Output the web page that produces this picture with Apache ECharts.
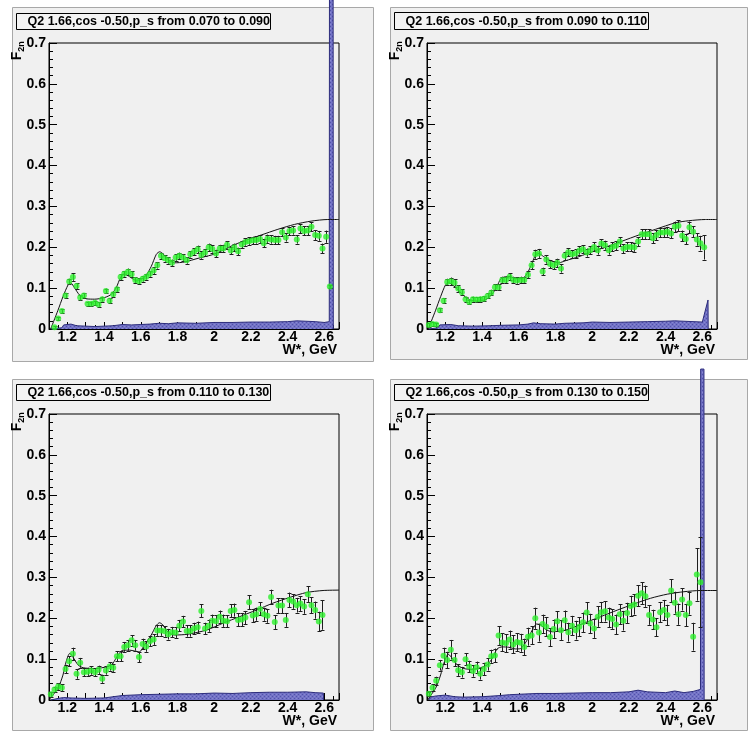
<!DOCTYPE html>
<html><head><meta charset="utf-8">
<script src="https://cdn.jsdelivr.net/npm/echarts@6/dist/echarts.min.js"></script>
<style>html,body{margin:0;padding:0;background:#fff}#c{width:750px;height:740px}</style>
</head><body><div id="c"></div>
<script>
// ---------------- DATA ----------------
const titles = [
  "Q2 1.66,cos -0.50,p_s from 0.070 to 0.090",
  "Q2 1.66,cos -0.50,p_s from 0.090 to 0.110",
  "Q2 1.66,cos -0.50,p_s from 0.110 to 0.130",
  "Q2 1.66,cos -0.50,p_s from 0.130 to 0.150"
];
const xTitle = "W*, GeV";
const yTitleMain = "F";
const yTitleSub = "2n";
const xTickLabels = ["1.2","1.4","1.6","1.8","2","2.2","2.4","2.6"];
const yTickLabels = ["0","0.1","0.2","0.3","0.4","0.5","0.6","0.7"];

const wP1 = [1.13,1.15,1.17,1.19,1.21,1.23,1.25,1.27,1.29,1.31,1.33,1.35,1.37,1.39,1.41,1.43,1.45,1.47,1.49,1.51,1.53,1.55,1.57,1.59,1.61,1.63,1.65,1.67,1.69,1.71,1.73,1.75,1.77,1.79,1.81,1.83,1.85,1.87,1.89,1.91,1.93,1.95,1.97,1.99,2.01,2.03,2.05,2.07,2.09,2.11,2.13,2.15,2.17,2.19,2.21,2.23,2.25,2.27,2.29,2.31,2.33,2.35,2.37,2.39,2.41,2.43,2.45,2.47,2.49,2.51,2.53,2.55,2.57,2.59,2.61,2.63];
const wP2 = [1.11,1.13,1.15,1.17,1.19,1.21,1.23,1.25,1.27,1.29,1.31,1.33,1.35,1.37,1.39,1.41,1.43,1.45,1.47,1.49,1.51,1.53,1.55,1.57,1.59,1.61,1.63,1.65,1.67,1.69,1.71,1.73,1.75,1.77,1.79,1.81,1.83,1.85,1.87,1.89,1.91,1.93,1.95,1.97,1.99,2.01,2.03,2.05,2.07,2.09,2.11,2.13,2.15,2.17,2.19,2.21,2.23,2.25,2.27,2.29,2.31,2.33,2.35,2.37,2.39,2.41,2.43,2.45,2.47,2.49,2.51,2.53,2.55,2.57,2.59,2.61];
const wP3 = [1.11,1.13,1.15,1.17,1.19,1.21,1.23,1.25,1.27,1.29,1.31,1.33,1.35,1.37,1.39,1.41,1.43,1.45,1.47,1.49,1.51,1.53,1.55,1.57,1.59,1.61,1.63,1.65,1.67,1.69,1.71,1.73,1.75,1.77,1.79,1.81,1.83,1.85,1.87,1.89,1.91,1.93,1.95,1.97,1.99,2.01,2.03,2.05,2.07,2.09,2.11,2.13,2.15,2.17,2.19,2.21,2.23,2.25,2.27,2.29,2.31,2.33,2.35,2.37,2.39,2.41,2.43,2.45,2.47,2.49,2.51,2.53,2.55,2.57,2.59];
const wP4 = [1.11,1.13,1.15,1.17,1.19,1.21,1.23,1.25,1.27,1.29,1.31,1.33,1.35,1.37,1.39,1.41,1.43,1.45,1.47,1.49,1.51,1.53,1.55,1.57,1.59,1.61,1.63,1.65,1.67,1.69,1.71,1.73,1.75,1.77,1.79,1.81,1.83,1.85,1.87,1.89,1.91,1.93,1.95,1.97,1.99,2.01,2.03,2.05,2.07,2.09,2.11,2.13,2.15,2.17,2.19,2.21,2.23,2.25,2.27,2.29,2.31,2.33,2.35,2.37,2.39,2.41,2.43,2.45,2.47,2.49,2.51,2.53,2.55,2.57,2.59];

const f2nP1 = [0.004,0.026,0.044,0.082,0.116,0.127,0.105,0.077,0.082,0.062,
  0.062,0.064,0.060,0.073,0.093,0.069,0.085,0.097,0.127,0.135,
  0.140,0.134,0.120,0.117,0.123,0.128,0.135,0.143,0.156,0.179,
  0.173,0.168,0.162,0.175,0.179,0.175,0.168,0.183,0.189,0.195,
  0.181,0.187,0.200,0.196,0.185,0.197,0.197,0.206,0.192,0.200,
  0.190,0.207,0.213,0.215,0.217,0.218,0.220,0.210,0.221,0.219,
  0.218,0.218,0.237,0.224,0.240,0.241,0.219,0.246,0.240,0.241,
  0.250,0.230,0.228,0.197,0.226,0.104];
const errP1 = [0.003,0.004,0.005,0.006,0.007,0.009,0.007,0.006,0.006,0.005,
  0.005,0.005,0.005,0.006,0.006,0.006,0.006,0.006,0.007,0.007,
  0.008,0.007,0.007,0.007,0.007,0.007,0.007,0.008,0.008,0.008,
  0.008,0.008,0.008,0.008,0.008,0.008,0.008,0.008,0.009,0.009,
  0.009,0.009,0.009,0.009,0.009,0.009,0.009,0.009,0.009,0.009,
  0.009,0.009,0.009,0.009,0.009,0.009,0.009,0.010,0.010,0.010,
  0.010,0.010,0.010,0.010,0.010,0.010,0.010,0.011,0.011,0.011,
  0.011,0.012,0.012,0.012,0.015,0.003];

const f2nP2 = [0.010,0.012,0.011,0.046,0.069,0.115,0.117,0.113,0.099,0.090,
  0.073,0.066,0.073,0.072,0.073,0.074,0.081,0.089,0.102,0.102,
  0.120,0.120,0.128,0.120,0.119,0.120,0.120,0.133,0.156,0.183,
  0.185,0.141,0.170,0.159,0.156,0.162,0.148,0.179,0.188,0.183,
  0.185,0.192,0.195,0.187,0.193,0.201,0.193,0.209,0.205,0.193,
  0.201,0.204,0.214,0.197,0.201,0.201,0.200,0.214,0.232,0.232,
  0.232,0.222,0.230,0.236,0.236,0.238,0.234,0.250,0.253,0.228,
  0.220,0.249,0.238,0.219,0.210,0.200];
const errP2 = [0.004,0.004,0.004,0.005,0.006,0.008,0.009,0.009,0.008,0.007,
  0.006,0.006,0.006,0.006,0.006,0.006,0.006,0.007,0.007,0.007,
  0.008,0.008,0.009,0.008,0.008,0.008,0.008,0.009,0.010,0.011,
  0.011,0.009,0.010,0.010,0.010,0.010,0.010,0.010,0.010,0.010,
  0.010,0.010,0.010,0.010,0.010,0.011,0.011,0.011,0.011,0.011,
  0.011,0.011,0.011,0.011,0.011,0.011,0.011,0.011,0.012,0.012,
  0.012,0.012,0.012,0.012,0.012,0.012,0.012,0.013,0.013,0.013,
  0.013,0.014,0.014,0.015,0.018,0.030];

const f2nP3 = [0.014,0.026,0.033,0.030,0.076,0.095,0.113,0.064,0.091,0.068,
  0.069,0.072,0.068,0.074,0.052,0.072,0.082,0.079,0.107,0.107,
  0.130,0.134,0.146,0.134,0.105,0.137,0.131,0.144,0.148,0.170,
  0.170,0.168,0.161,0.166,0.165,0.182,0.192,0.169,0.169,0.175,
  0.178,0.218,0.175,0.182,0.194,0.193,0.204,0.194,0.193,0.218,
  0.220,0.196,0.197,0.202,0.239,0.207,0.210,0.223,0.210,0.206,
  0.252,0.191,0.231,0.231,0.196,0.245,0.241,0.232,0.236,0.229,
  0.259,0.232,0.220,0.192,0.208];
const errP3 = [0.006,0.007,0.008,0.008,0.010,0.012,0.015,0.012,0.012,0.010,
  0.010,0.010,0.010,0.010,0.010,0.010,0.010,0.010,0.012,0.012,
  0.012,0.013,0.013,0.013,0.012,0.013,0.013,0.013,0.013,0.013,
  0.013,0.013,0.013,0.013,0.013,0.014,0.014,0.014,0.014,0.014,
  0.014,0.016,0.014,0.015,0.015,0.015,0.015,0.015,0.015,0.016,
  0.016,0.016,0.016,0.016,0.017,0.016,0.016,0.016,0.016,0.017,
  0.018,0.017,0.018,0.018,0.017,0.018,0.018,0.018,0.018,0.018,
  0.019,0.020,0.021,0.024,0.036];

const f2nP4 = [0.015,0.030,0.047,0.085,0.108,0.098,0.123,0.098,0.073,0.068,
  0.100,0.082,0.071,0.080,0.064,0.076,0.087,0.107,0.109,0.158,
  0.141,0.139,0.148,0.136,0.142,0.140,0.130,0.155,0.158,0.200,
  0.165,0.186,0.179,0.154,0.174,0.193,0.171,0.195,0.166,0.182,
  0.171,0.179,0.190,0.214,0.187,0.175,0.204,0.215,0.217,0.202,
  0.198,0.185,0.210,0.194,0.213,0.230,0.234,0.255,0.261,0.254,
  0.208,0.197,0.178,0.215,0.220,0.208,0.268,0.238,0.210,0.246,
  0.208,0.237,0.155,0.307,0.288];
const errP4 = [0.006,0.008,0.010,0.013,0.020,0.020,0.024,0.016,0.014,0.013,
  0.015,0.014,0.014,0.014,0.014,0.015,0.015,0.016,0.017,0.023,
  0.022,0.022,0.022,0.022,0.022,0.022,0.020,0.022,0.022,0.026,
  0.022,0.023,0.023,0.022,0.023,0.024,0.024,0.024,0.023,0.024,
  0.023,0.023,0.024,0.025,0.024,0.023,0.025,0.025,0.025,0.024,
  0.024,0.024,0.025,0.024,0.025,0.025,0.025,0.026,0.027,0.026,
  0.024,0.024,0.022,0.025,0.025,0.025,0.028,0.027,0.026,0.027,
  0.027,0.028,0.034,0.064,0.110];

// model curves
const modelWP1 = [1.109,1.149,1.176,1.204,1.218,1.24,1.267,1.303,1.349,1.403,1.44,1.467,1.49,1.512,1.539,1.575,1.603,1.63,1.657,1.685,1.703,1.721,1.748,1.784,1.839,1.912,1.984,2.02,2.093,2.165,2.256,2.347,2.438,2.528,2.619,2.68];
const modelP1  = [0,0.046,0.079,0.108,0.113,0.1,0.083,0.074,0.073,0.077,0.085,0.102,0.126,0.135,0.128,0.119,0.122,0.132,0.153,0.183,0.189,0.184,0.17,0.162,0.164,0.173,0.181,0.187,0.203,0.216,0.23,0.244,0.256,0.264,0.268,0.268];
const modelWP2 = [1.107,1.147,1.174,1.201,1.219,1.247,1.274,1.301,1.338,1.383,1.428,1.456,1.482,1.501,1.528,1.555,1.582,1.618,1.646,1.673,1.691,1.709,1.736,1.773,1.818,1.854,1.927,2.017,2.09,2.163,2.254,2.345,2.454,2.526,2.617,2.68];
const modelP2  = [0,0.046,0.079,0.108,0.113,0.105,0.094,0.081,0.071,0.068,0.074,0.086,0.105,0.122,0.128,0.128,0.123,0.123,0.136,0.162,0.181,0.185,0.177,0.167,0.162,0.167,0.177,0.192,0.203,0.215,0.23,0.244,0.26,0.265,0.268,0.268];
const modelWP3 = [1.1,1.149,1.176,1.194,1.213,1.258,1.286,1.349,1.421,1.448,1.476,1.503,1.539,1.566,1.593,1.62,1.657,1.684,1.702,1.72,1.748,1.784,1.856,1.957,2.048,2.139,2.229,2.32,2.411,2.502,2.593,2.68];
const modelP3  = [0,0.029,0.061,0.095,0.114,0.086,0.079,0.077,0.082,0.09,0.11,0.122,0.122,0.12,0.118,0.135,0.159,0.182,0.189,0.184,0.166,0.159,0.161,0.171,0.188,0.204,0.22,0.237,0.251,0.263,0.268,0.269];
const modelWP4 = [1.102,1.147,1.174,1.192,1.216,1.241,1.265,1.301,1.347,1.392,1.428,1.456,1.482,1.51,1.546,1.582,1.61,1.646,1.673,1.697,1.718,1.746,1.782,1.855,1.955,2.046,2.137,2.227,2.318,2.409,2.5,2.59,2.68];
const modelP4  = [0,0.029,0.061,0.09,0.112,0.1,0.086,0.077,0.075,0.079,0.086,0.102,0.125,0.13,0.129,0.125,0.126,0.147,0.171,0.186,0.184,0.173,0.167,0.171,0.188,0.204,0.22,0.235,0.249,0.259,0.265,0.268,0.268];

// systematic-error band (blue filled)
const sysWP1 = [1.11,1.12,1.17,1.18,1.22,1.25,1.3,1.35,1.4,1.45,1.5,1.55,1.6,1.65,1.7,1.75,1.8,1.9,2.0,2.1,2.2,2.3,2.4,2.45,2.5,2.55,2.6,2.627,2.628,2.648,2.649];
const sysP1  = [0,0.002,0.003,0.01,0.012,0.008,0.007,0.006,0.007,0.008,0.011,0.01,0.011,0.012,0.014,0.013,0.015,0.014,0.016,0.016,0.017,0.017,0.018,0.02,0.019,0.018,0.016,0.018,0.81,0.81,0];
const sysWP2 = [1.11,1.115,1.16,1.17,1.23,1.27,1.35,1.45,1.5,1.6,1.65,1.68,1.72,1.8,1.85,1.95,2.0,2.1,2.2,2.3,2.4,2.45,2.5,2.6,2.608,2.631,2.632];
const sysP2  = [0,0.002,0.003,0.01,0.011,0.008,0.007,0.008,0.009,0.01,0.012,0.015,0.013,0.012,0.014,0.015,0.017,0.016,0.017,0.018,0.019,0.02,0.019,0.017,0.018,0.071,0];
const sysWP3 = [1.11,1.115,1.15,1.18,1.22,1.3,1.4,1.45,1.5,1.6,1.7,1.8,1.9,2.0,2.1,2.2,2.3,2.4,2.5,2.55,2.595,2.596];
const sysP3  = [0,0.003,0.004,0.006,0.005,0.004,0.005,0.008,0.011,0.013,0.014,0.015,0.015,0.017,0.016,0.018,0.019,0.019,0.02,0.018,0.017,0];
const sysWP4 = [1.11,1.115,1.15,1.2,1.25,1.3,1.4,1.5,1.55,1.6,1.7,1.8,1.9,2.0,2.1,2.2,2.25,2.3,2.4,2.45,2.5,2.55,2.59,2.591,2.609,2.61];
const sysP4  = [0,0.007,0.01,0.012,0.008,0.007,0.008,0.011,0.013,0.014,0.016,0.016,0.017,0.018,0.018,0.02,0.024,0.02,0.018,0.022,0.018,0.021,0.026,0.81,0.81,0];

// ---------------- LAYOUT / STYLE ----------------
const FONT = "'Liberation Sans', Arial, Helvetica, sans-serif";
const panelsData = [
  {w:wP1,v:f2nP1,e:errP1,mw:modelWP1,m:modelP1,sw:sysWP1,s:sysP1},
  {w:wP2,v:f2nP2,e:errP2,mw:modelWP2,m:modelP2,sw:sysWP2,s:sysP2},
  {w:wP3,v:f2nP3,e:errP3,mw:modelWP3,m:modelP3,sw:sysWP3,s:sysP3},
  {w:wP4,v:f2nP4,e:errP4,mw:modelWP4,m:modelP4,sw:sysWP4,s:sysP4}
];
const layout = [
  {gx:49,  gy:43,  pr:[12.5,7.5,361,354],  tb:[16.5,13.5,254,16]},
  {gx:427, gy:43,  pr:[390.5,7.5,357,352], tb:[394.5,12.5,254,17]},
  {gx:49,  gy:414, pr:[12.5,379.5,361,351],tb:[16.5,384.5,254,16]},
  {gx:427, gy:414, pr:[390.5,379.5,357,351],tb:[394.5,384.5,254,16]}
];
const GW = 290, GH = 286;

function hatch(){
  const c = document.createElement('canvas'); c.width = 4; c.height = 4;
  const g = c.getContext('2d');
  g.fillStyle = '#7272c6'; g.fillRect(0,0,4,4);
  g.fillStyle = '#5252aa'; g.fillRect(0,0,1,1); g.fillRect(2,2,1,1);
  g.fillStyle = '#8888d0'; g.fillRect(2,0,1,1); g.fillRect(0,2,1,1);
  return c;
}
const hatchPattern = {image: hatch(), repeat: 'repeat'};

function xFmt(v){
  const t = Math.round(v*10);
  if (Math.abs(v*10 - t) > 1e-6 || t % 2) return '';
  const s = (t/10).toFixed(1).replace(/\.0$/, '');
  return xTickLabels.indexOf(s) >= 0 ? s : '';
}
function yFmt(v){
  const t = Math.round(v*10);
  return yTickLabels[t] !== undefined ? yTickLabels[t] : '';
}

function renderErr(params, api){
  const x = api.value(0), lo = api.value(1), hi = api.value(2);
  const a = api.coord([x, lo]), b = api.coord([x, hi]);
  const cx = Math.round(a[0]) + 0.5;
  const h = 2;
  const st = {stroke:'#1e1e1e', lineWidth:1};
  return {type:'group', children:[
    {type:'line', shape:{x1:cx,y1:a[1],x2:cx,y2:b[1]}, style:st},
    {type:'line', shape:{x1:cx-h,y1:Math.round(a[1])+0.5,x2:cx+h,y2:Math.round(a[1])+0.5}, style:st},
    {type:'line', shape:{x1:cx-h,y1:Math.round(b[1])+0.5,x2:cx+h,y2:Math.round(b[1])+0.5}, style:st}
  ]};
}

const grids = [], xAxes = [], yAxes = [], series = [], graphics = [];
layout.forEach((L, i) => {
  const D = panelsData[i];
  grids.push({left:L.gx, top:L.gy, width:GW, height:GH, show:true,
    backgroundColor:'#f0f0f0', borderColor:'#000', borderWidth:1});
  xAxes.push({gridIndex:i, type:'value', min:1.1, max:2.68, interval:0.1,
    axisLine:{lineStyle:{color:'#000', width:1}},
    axisTick:{inside:true, length:7, lineStyle:{color:'#000'}},
    minorTick:{show:true, splitNumber:2, length:4, lineStyle:{color:'#000'}},
    splitLine:{show:false},
    axisLabel:{formatter:xFmt, color:'#000', fontWeight:'bold', fontSize:14, fontFamily:FONT, margin:1}
  });
  yAxes.push({gridIndex:i, type:'value', min:0, max:0.7, interval:0.1,
    axisLine:{show:true, lineStyle:{color:'#000', width:1}},
    axisTick:{show:true, inside:true, length:8, lineStyle:{color:'#000'}},
    minorTick:{show:true, splitNumber:5, length:4, lineStyle:{color:'#000'}},
    splitLine:{show:false},
    axisLabel:{formatter:yFmt, color:'#000', fontWeight:'bold', fontSize:14, fontFamily:FONT, margin:3}
  });
  series.push({type:'line', xAxisIndex:i, yAxisIndex:i, clip:false, symbol:'none', z:1,
    data:D.sw.map((w,k)=>[w, D.s[k]]),
    lineStyle:{color:'#2c2c7c', width:1}, areaStyle:{color:hatchPattern, opacity:1}});
  series.push({type:'line', xAxisIndex:i, yAxisIndex:i, symbol:'none', z:3, smooth:0.25,
    data:D.mw.map((w,k)=>[w, D.m[k]]), lineStyle:{color:'#111', width:1}});
  series.push({type:'custom', xAxisIndex:i, yAxisIndex:i, z:4, renderItem:renderErr,
    encode:{x:0, y:[1,2]},
    data:D.w.map((w,k)=>[w, D.v[k]-D.e[k], D.v[k]+D.e[k]])});
  series.push({type:'scatter', xAxisIndex:i, yAxisIndex:i, z:5, symbol:'circle', symbolSize:6,
    itemStyle:{color:'#2cf02c'}, data:D.w.map((w,k)=>[w, D.v[k]])});

  // panel background
  graphics.push({type:'rect', z:-100, shape:{x:L.pr[0], y:L.pr[1], width:L.pr[2], height:L.pr[3]},
    style:{fill:'#f0f0f0', stroke:'#a8a8a8', lineWidth:1}});
  // title box
  graphics.push({type:'rect', z:50, shape:{x:L.tb[0], y:L.tb[1], width:L.tb[2], height:L.tb[3]},
    style:{fill:'#f3f3f3', stroke:'#000', lineWidth:1}});
  graphics.push({type:'text', z:51, x:L.tb[0]+11, y:L.tb[1]+L.tb[3]/2+0.5,
    style:{text:titles[i], fill:'#000', font:'bold 12.5px '+FONT, verticalAlign:'middle', align:'left'}});
  // y title F_2n (rotated)
  graphics.push({type:'text', z:51, x:L.gx-32, y:L.gy+13, rotation:Math.PI/2,
    style:{text:yTitleMain, fill:'#000', font:'bold 14px '+FONT, align:'center', verticalAlign:'middle'}});
  graphics.push({type:'text', z:51, x:L.gx-27.5, y:L.gy+3.5, rotation:Math.PI/2,
    style:{text:yTitleSub, fill:'#000', font:'bold 9px '+FONT, align:'center', verticalAlign:'middle'}});
  // x title
  graphics.push({type:'text', z:51, x:L.gx+GW-2, y:L.gy+GH+21,
    style:{text:xTitle, fill:'#000', font:'bold 14px '+FONT, align:'right', verticalAlign:'middle'}});
});

const chart = echarts.init(document.getElementById('c'), null, {renderer:'canvas'});
chart.setOption({
  backgroundColor:'#ffffff',
  animation:false,
  grid:grids, xAxis:xAxes, yAxis:yAxes, series:series,
  graphic:{elements:graphics}
});
</script>
</body></html>
